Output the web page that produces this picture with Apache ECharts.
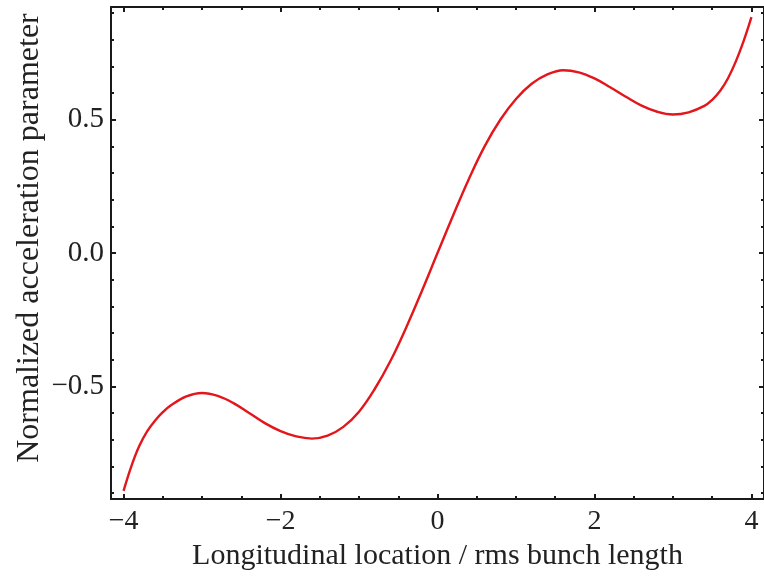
<!DOCTYPE html>
<html>
<head>
<meta charset="utf-8">
<script src="https://cdn.jsdelivr.net/npm/echarts@6/dist/echarts.min.js"></script>
<style>html,body{margin:0;padding:0;background:#fff}#c{width:764px;height:576px}</style>
</head>
<body>
<div id="c"></div>
<script>
// Data
const xValues = [-4.0,-3.9,-3.8,-3.7,-3.6,-3.5,-3.4,-3.2,-3.0,-2.8,-2.6,-2.4,-2.2,-2.0,-1.8,-1.6,-1.4,-1.2,-1.0,-0.8,-0.6,-0.4,-0.2,0.0,
  0.2,0.4,0.6,0.8,1.0,1.2,1.4,1.6,1.8,2.0,2.2,2.4,2.6,2.8,3.0,3.2,3.4,3.5,3.6,3.7,3.8,3.9,4.0];
const yValues = [-0.892,-0.799,-0.724,-0.669,-0.629,-0.597,-0.572,-0.538,-0.525,-0.536,-0.563,-0.600,-0.638,-0.668,-0.688,-0.696,-0.685,-0.652,-0.595,-0.510,-0.405,-0.280,-0.143,0.0,
  0.142,0.278,0.400,0.500,0.578,0.635,0.670,0.686,0.678,0.655,0.622,0.586,0.553,0.530,0.520,0.528,0.552,0.575,0.608,0.655,0.718,0.795,0.885];
const xMajorTicks = [-4,-2,0,2,4];
const xMinorTicks = [-4,-3.5,-3,-2.5,-2,-1.5,-1,-0.5,0,0.5,1,1.5,2,2.5,3,3.5,4];
const yMajorTicks = [-0.5,0,0.5];
const yMinorTicks = [-0.9,-0.8,-0.7,-0.6,-0.5,-0.4,-0.3,-0.2,-0.1,0,0.1,0.2,0.3,0.4,0.5,0.6,0.7,0.8,0.9];
const xTitle = 'Longitudinal location / rms bunch length';
const yTitle = 'Normalized acceleration parameter';

const FONT = '"Liberation Serif", "DejaVu Serif", serif';
const AX = '#1a1a1a';
const minus = v => String(v).replace('-', '\u2212');
const XMIN = -4.16, XMAX = 4.16, YMIN = -0.923, YMAX = 0.923;

function xAxisDef(pos, major, line) {
  return {
    type: 'value', min: XMIN, max: XMAX, position: pos,
    axisLine: {show: line, onZero: false, lineStyle: {color: AX, width: 2}},
    axisTick: {show: true, inside: true, length: major ? 5 : 3, lineStyle: {color: AX, width: 2},
      customValues: major ? xMajorTicks : xMinorTicks},
    axisLabel: (major && pos === 'bottom') ? {show: true, customValues: xMajorTicks, margin: 9,
      fontFamily: FONT, fontSize: 28, color: '#222', formatter: v => minus(Math.round(v))} : {show: false},
    splitLine: {show: false},
    name: (major && pos === 'bottom') ? xTitle : '',
    nameLocation: 'middle', nameGap: 35,
    nameTextStyle: {fontFamily: FONT, fontSize: 30, color: '#222'}
  };
}
function yAxisDef(pos, major, line) {
  return {
    type: 'value', min: YMIN, max: YMAX, position: pos,
    axisLine: {show: line, onZero: false, lineStyle: {color: AX, width: 2}},
    axisTick: {show: true, inside: true, length: major ? 5 : 3, lineStyle: {color: AX, width: 2},
      customValues: major ? yMajorTicks : yMinorTicks},
    axisLabel: (major && pos === 'left') ? {show: true, customValues: yMajorTicks, margin: 7,
      fontFamily: FONT, fontSize: 29, color: '#222', formatter: v => minus(v.toFixed(1))} : {show: false},
    splitLine: {show: false}
  };
}

const chart = echarts.init(document.getElementById('c'), null, {renderer: 'canvas'});
chart.setOption({
  animation: false,
  backgroundColor: '#fff',
  grid: {left: 111, top: 7, width: 657, height: 493, containLabel: false},
  xAxis: [xAxisDef('bottom', true, true), xAxisDef('bottom', false, false),
          xAxisDef('top', true, true), xAxisDef('top', false, false)],
  yAxis: [yAxisDef('left', true, true), yAxisDef('left', false, false),
          yAxisDef('right', true, true), yAxisDef('right', false, false)],
  graphic: [{
    type: 'text', x: 30, y: 238, rotation: Math.PI / 2,
    style: {text: yTitle, textAlign: 'center', textVerticalAlign: 'middle',
      fontFamily: FONT, fontSize: 32, fill: '#222'}
  }],
  series: [{
    type: 'line', xAxisIndex: 0, yAxisIndex: 0,
    data: xValues.map((x, i) => [x, yValues[i]]),
    smooth: 0.4, showSymbol: false, symbol: 'none',
    lineStyle: {color: '#e3161c', width: 2.4}
  }]
});
</script>
</body>
</html>
